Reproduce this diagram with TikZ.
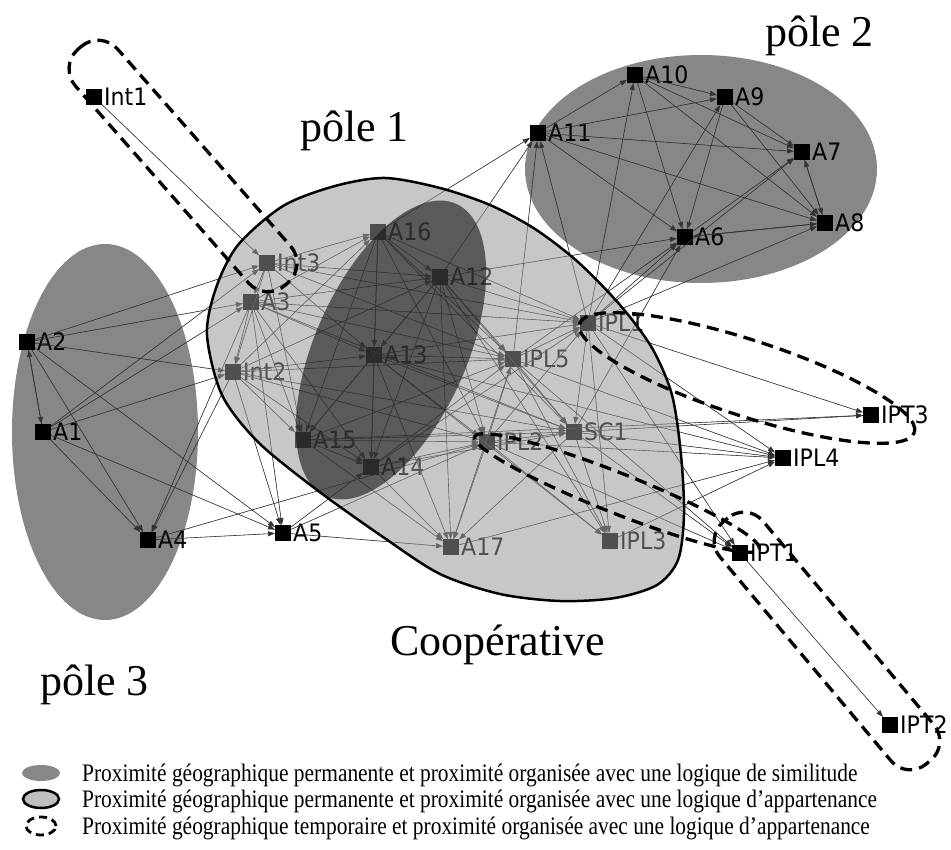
\documentclass[tikz,border=0pt]{standalone}
\usepackage{fontspec}
\setmainfont{Liberation Serif}
\newfontfamily\labfont[FakeStretch=0.92]{DejaVu Sans}
\newfontfamily\legfont[FakeStretch=0.85]{Liberation Serif}
\usetikzlibrary{arrows.meta}
\newcommand\mknode[3]{\node[sq] (#1) at (#2) {};\node[lab] (l#1) at ([xshift=2pt]#1.east) {#3};}
\def\cooppath{plot[smooth cycle] coordinates {(207,335) (216,288) (238,245) (283,206) (335,186) (385,178) (440,188) (490,205) (535,229) (578,262) (620,305) (652,348) (672,395) (681,455) (684,515) (678,560) (657,585) (615,598) (560,601) (500,594) (440,574) (383,537) (317,490) (258,442) (222,395)}}
\begin{document}
\begin{tikzpicture}[x=1pt,y=-1pt,
  sq/.style={rectangle, fill=black, minimum size=16pt, inner sep=0pt, outer sep=0pt},
  lab/.style={anchor=west, inner sep=0pt, font=\labfont\fontsize{24}{24}\selectfont, text=black},
  e/.style={-{Triangle[length=7pt,width=5pt]}, line width=0.6pt, draw=black!80, fill=black!80},
  dsh/.style={draw=black, line width=3.3pt, dash pattern=on 12pt off 7pt},
  pole/.style={fill=black!47},
  ttl/.style={font=\fontsize{44}{44}\selectfont, anchor=base west, inner sep=0pt},
  leg/.style={font=\legfont\fontsize{25.2}{25.2}\selectfont, anchor=base west, inner sep=0pt}
]
\useasboundingbox (0,0) rectangle (951,850);

% similarity poles (behind)
\fill[pole] (105,432) ellipse [x radius=93pt, y radius=188pt];
\fill[pole] (701,169) ellipse [x radius=176pt, y radius=114pt];
\fill[white] \cooppath;

% nodes
\mknode{Int1}{94,97}{Int1}
\mknode{Int3}{267,263}{Int3}
\mknode{A3}{251,302}{A3}
\mknode{Int2}{233,372}{Int2}
\mknode{A2}{27,342}{A2}
\mknode{A1}{43,432}{A1}
\mknode{A4}{148,540}{A4}
\mknode{A5}{283,533}{A5}
\mknode{A16}{378,232}{A16}
\mknode{A12}{440,277}{A12}
\mknode{A13}{374,355}{A13}
\mknode{A15}{303,440}{A15}
\mknode{A14}{371,467}{A14}
\mknode{IPL5}{513,359}{IPL5}
\mknode{IPL1}{588,323}{IPL1}
\mknode{SC1}{574,432}{SC1}
\mknode{IPL2}{487,442}{IPL2}
\mknode{A17}{451,547}{A17}
\mknode{IPL3}{610,541}{IPL3}
\mknode{IPT1}{740,553}{IPT1}
\mknode{IPT2}{890,725}{IPT2}
\mknode{IPT3}{871,415}{IPT3}
\mknode{IPL4}{783,458}{IPL4}
\mknode{A11}{538,133}{A11}
\mknode{A10}{635,75}{A10}
\mknode{A9}{725,97}{A9}
\mknode{A7}{802,152}{A7}
\mknode{A8}{825,223}{A8}
\mknode{A6}{685,237}{A6}

% connectors
\foreach \a/\b in {Int1/Int3,
 A2/Int3, A2/A3, A2/Int2, A2/A1, A1/A2, A2/A4, A2/A5,
 A1/A3, A1/Int3, A1/Int2, A1/A4, A1/A5,
 Int2/A4, A3/A4, A4/A5, A4/IPL2,
 Int2/A5, A3/A5, A5/A17, A5/A14, A5/IPL2,
 Int3/A3, A3/Int2, Int3/Int2,
 Int3/A16, Int3/A12, Int3/A13, Int3/IPL5, Int3/IPL1, Int3/A15,
 A3/A16, A3/A12, A3/A13, A3/IPL1, A3/IPL5, A3/SC1, A3/A15, A3/A14,
 Int2/A13, Int2/A15, Int2/A14, Int2/IPL2, Int2/A16, Int2/A12, Int2/IPL5, Int2/SC1,
 A16/A13, A16/A12, A16/A15, A16/A14, A16/IPL5, A16/IPL2, A16/IPL1, A16/SC1, A16/A11,
 A12/A13, A12/A15, A12/A14, A12/IPL5, A12/IPL1, A12/IPL2, A12/SC1, A12/A17, A12/IPL3, A12/A6, A12/A11,
 A13/A14, A13/IPL5, A13/IPL1, A13/IPL2, A13/SC1, A13/A17, A13/IPL4, A13/A15, A13/IPL3,
 A15/IPL2, A15/A17, A15/A14, A15/SC1, A15/IPL5, A15/IPT3,
 A14/IPL2, A14/IPL5, A14/IPL1, A14/A17, A14/SC1,
 IPL2/A17, IPL2/IPL5, IPL2/SC1, IPL2/IPL3, IPL2/IPL1, IPL2/IPL4, IPL2/IPT1,
 IPL5/A11, IPL5/IPL1, IPL5/SC1, IPL5/IPL3, IPL5/IPL4, IPL5/IPT1, IPL5/A17, IPL5/A6,
 IPL1/A11, IPL1/A10, IPL1/A9, IPL1/A6, IPL1/A8, IPL1/A7, IPL1/IPT3, IPL1/IPL4, IPL1/IPT1, IPL1/SC1, IPL1/IPL3,
 SC1/IPL4, SC1/IPT3, SC1/IPL3, SC1/IPT1, SC1/A6, SC1/A17,
 IPL3/IPL4, A17/IPL4,
 A11/A10, A11/A9, A11/A7, A11/A8, A11/A6,
 A10/A9, A10/A7, A10/A8, A10/A6,
 A9/A7, A9/A8, A9/A6,
 A7/A8, A8/A7, A6/A7, A8/A6, A6/A8,
 IPT1/IPT2}
 \draw[e] (\a) -- (\b);

% cooperative overlay, dark pole 1 overlay
\fill[black!41, fill opacity=0.53] \cooppath;
\begin{scope}[shift={(391,350)}, rotate=66]
  \fill[black!93, fill opacity=0.6] (0,0) ellipse [x radius=160pt, y radius=76pt];
\end{scope}
\draw[line width=2.5pt] \cooppath;

% temporary proximity (dashed)
\begin{scope}[shift={(183,166)}, rotate=-48.7]
  \draw[dsh, rounded corners=26pt] (-157,-28) rectangle (157,28);
\end{scope}
\begin{scope}[shift={(747,378)}, rotate=-18]
  \draw[dsh] (0,0) ellipse [x radius=176pt, y radius=38pt];
\end{scope}
\begin{scope}[shift={(617,493)}, rotate=-21.6]
  \draw[dsh] (0,0) ellipse [x radius=153pt, y radius=20pt];
\end{scope}
\begin{scope}[shift={(827,641)}, rotate=-50]
  \draw[dsh, rounded corners=25pt] (-158,-28) rectangle (158,28);
\end{scope}

% titles
\node[ttl] (p2) at (765,47) {pôle 2};
\node[ttl] (p1) at (300,142) {pôle 1};
\node[ttl] (p3) at (40,695) {pôle 3};
\node[ttl] (coop) at (390,655) {Coopérative};

% legend
\fill[black!47] (41,773) ellipse [x radius=19pt, y radius=8pt];
\draw[line width=2.5pt, fill=black!25] (41,799) ellipse [x radius=18pt, y radius=9pt];
\draw[line width=2.8pt, dash pattern=on 8pt off 5pt] (41,826) ellipse [x radius=15pt, y radius=9pt];
\node[leg] (leg1) at (82,781) {Proximité géographique permanente et proximité organisée avec une logique de similitude};
\node[leg] (leg2) at (82,807) {Proximité géographique permanente et proximité organisée avec une logique d’appartenance};
\node[leg] (leg3) at (82,834) {Proximité géographique temporaire et proximité organisée avec une logique d’appartenance};
\end{tikzpicture}
\end{document}
